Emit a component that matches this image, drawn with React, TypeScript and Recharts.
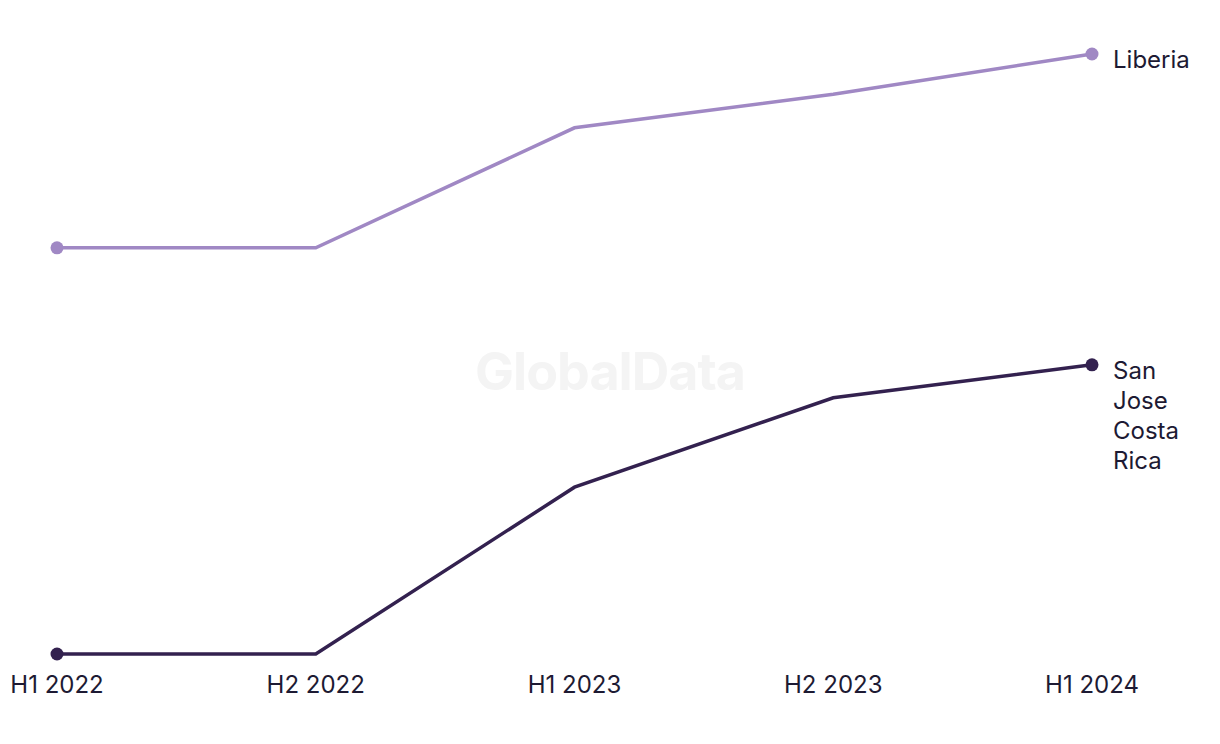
import { LineChart, Line, XAxis, YAxis } from 'recharts';

const periods = ['H1 2022', 'H2 2022', 'H1 2023', 'H2 2023', 'H1 2024'];
const liberia = [67.7, 67.7, 87.7, 93.3, 100];
const sanJose = [0, 0, 27.8, 42.7, 48.2];
const seriesNames = ['Liberia', 'San Jose Costa Rica'];

const TEXT = '#1d1a33';
const LIGHT = '#a088c4';
const DARK = '#33214f';
const FONT = 'Inter, "Noto Sans", sans-serif';

const chartData = periods.map((period, i) => ({
  period,
  liberia: liberia[i],
  sanJose: sanJose[i],
}));

function endDot(color: string) {
  return (props: any) => {
    const { cx, cy, index } = props;
    if (index !== 0 && index !== periods.length - 1) return <g key={index} />;
    return <circle key={index} cx={cx} cy={cy} r={6.5} fill={color} />;
  };
}

function endLabel(name: string) {
  return (props: any) => {
    const { x, y, index } = props;
    if (index !== periods.length - 1) return <g key={index} />;
    const words = name === 'Liberia' ? [name] : name.split(' ');
    return (
      <text key={index} x={x + 21} y={y + 6} fill={TEXT} fontSize={24} fontFamily={FONT}>
        {words.map((w, i) => (
          <tspan key={w} x={x + 21} dy={i === 0 ? 8 : 30}>{w}</tspan>
        ))}
      </text>
    );
  };
}

export default function App() {
  return (
    <div style={{ position: 'absolute', left: 0, top: 0, width: 1220, height: 744, background: '#fff' }}>
      <div style={{
        position: 'absolute',
        left: 0,
        width: 1220,
        top: 340,
        textAlign: 'center',
        fontFamily: FONT,
        fontWeight: 700,
        fontSize: 52,
        color: '#f4f4f4',
        letterSpacing: -1,
      }}>
        GlobalData
      </div>
      <LineChart
        width={1220}
        height={744}
        data={chartData}
        margin={{ top: 54, right: 128, left: 57, bottom: 50 }}
        style={{ position: 'absolute', left: 0, top: 0 }}
      >
        <XAxis
          dataKey="period"
          axisLine={false}
          tickLine={false}
          height={40}
          tickMargin={16}
          interval={0}
          tick={{ fill: TEXT, fontSize: 24, fontFamily: FONT }}
        />
        <YAxis hide domain={[0, 100]} />
        <Line
          dataKey="liberia"
          name={seriesNames[0]}
          stroke={LIGHT}
          strokeWidth={3.5}
          dot={endDot(LIGHT)}
          activeDot={false}
          label={endLabel(seriesNames[0])}
          isAnimationActive={false}
        />
        <Line
          dataKey="sanJose"
          name={seriesNames[1]}
          stroke={DARK}
          strokeWidth={3.5}
          dot={endDot(DARK)}
          activeDot={false}
          label={endLabel(seriesNames[1])}
          isAnimationActive={false}
        />
      </LineChart>
    </div>
  );
}
